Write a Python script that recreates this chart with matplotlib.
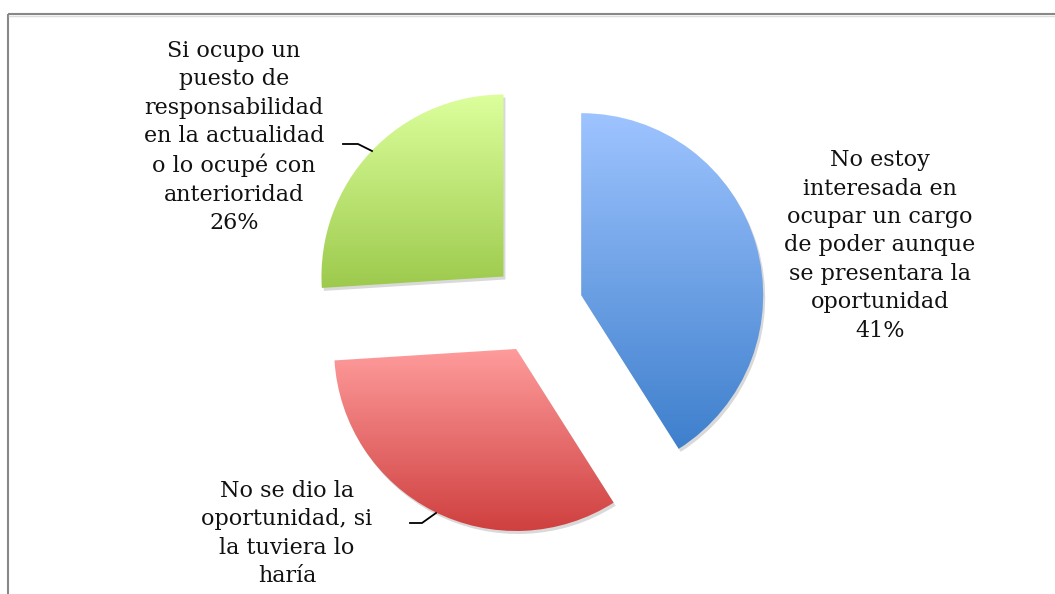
import numpy as np
import matplotlib
matplotlib.use("Agg")
import matplotlib.pyplot as plt
from matplotlib.colors import LinearSegmentedColormap
from matplotlib.patches import Wedge

# datos del gráfico
labels = [
    "No estoy\ninteresada en\nocupar un cargo\nde poder aunque\nse presentara la\noportunidad",
    "No se dio la\noportunidad, si\nla tuviera lo\nharía",
    "Si ocupo un\npuesto de\nresponsabilidad\nen la actualidad\no lo ocupé con\nanterioridad",
]
values = [41, 33, 26]
top_colors = ["#9ec4ff", "#ff9c9c", "#dcff9c"]
bottom_colors = ["#3e7fcc", "#cf3f3f", "#9dca4d"]

W, H = 1055, 594
fig = plt.figure(figsize=(W / 100, H / 100), dpi=100)
ax = fig.add_axes([0, 0, 1, 1])

cx, cy, r = 537, H - 308, 182
wedges, _ = ax.pie(values, explode=[46] * 3, startangle=90, counterclock=False,
                   center=(cx, cy), radius=r,
                   wedgeprops=dict(linewidth=0, edgecolor="none"))

grad = np.linspace(0, 1, 256).reshape(-1, 1)
for w, c0, c1 in zip(wedges, top_colors, bottom_colors):
    # sombra suave
    sh = Wedge((w.center[0] + 2, w.center[1] - 3), w.r, w.theta1, w.theta2,
               facecolor="#000000", alpha=0.15, linewidth=0, zorder=0.5)
    ax.add_patch(sh)
    w.set_facecolor("none")
    w.set_zorder(2)
    verts = w.get_patch_transform().transform(w.get_path().vertices)
    x0, x1 = verts[:, 0].min(), verts[:, 0].max()
    y0, y1 = verts[:, 1].min(), verts[:, 1].max()
    cmap = LinearSegmentedColormap.from_list("g", [c0, c1])
    im = ax.imshow(grad, cmap=cmap, extent=(x0, x1, y0, y1), origin="upper",
                   aspect="auto", zorder=1.5, interpolation="bilinear")
    im.set_clip_path(w)

pct = [f"{v}%" for v in values]
font = dict(family="DejaVu Serif", fontsize=16, ha="center", va="center",
            multialignment="center", linespacing=1.38, color="#111111")
ax.text(880, H - 245.5, labels[0] + "\n" + pct[0], **font)
# el porcentaje de esta etiqueta queda fuera del recorte en el original
ax.text(287, H - 533.5, labels[1], **font)
ax.text(234, H - 137, labels[2] + "\n" + pct[2], **font)

# líneas guía
ax.plot([343, 358, 372], [H - 144, H - 144, H - 151], color="black", lw=1.3)
ax.plot([410, 422, 436], [H - 523, H - 523, H - 513], color="black", lw=1.3)

# marco
ax.plot([8, W], [H - 14, H - 14], color="#888888", lw=1.5, solid_capstyle="butt")
ax.plot([8, 8], [H - 14, 0], color="#888888", lw=1.5, solid_capstyle="butt")
ax.plot([9, W], [H - 15.5, H - 15.5], color="#dddddd", lw=1)

ax.set_xlim(0, W)
ax.set_ylim(0, H)
ax.axis("off")

fig.savefig("out.png", dpi=100)
